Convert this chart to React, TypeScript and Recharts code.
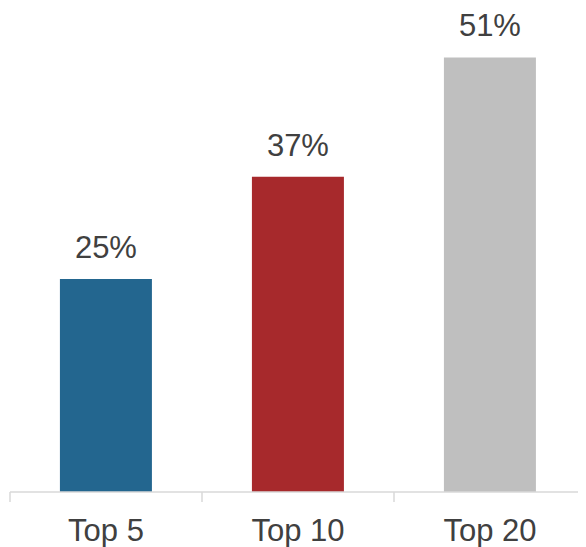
import { BarChart, Bar, XAxis, YAxis, Cell, LabelList } from 'recharts';

const categories = ['Top 5', 'Top 10', 'Top 20'];
const shares = [25, 37, 51];
const barColors = ['#23668f', '#a7292c', '#bfbfbf'];

const CHART_W = 578;
const CHART_H = 539;
const MARGIN = { top: 15.4, right: 0, left: 2, bottom: 5 };
const FONT = '"Liberation Sans", Arial, sans-serif';

const data = categories.map((name, i) => ({ name, value: shares[i] }));

const half = (CHART_W - MARGIN.left - MARGIN.right) / categories.length / 2;

function CategoryTick(props: any) {
  const { x, y, payload, index } = props;
  const last = index === categories.length - 1;
  return (
    <g>
      <line x1={x - half} x2={x - half} y1={y} y2={y + 10} stroke="#d9d9d9" strokeWidth={1.5} />
      {last && <line x1={x + half} x2={x + half} y1={y} y2={y + 10} stroke="#d9d9d9" strokeWidth={1.5} />}
      <text
        x={x}
        y={y + 49}
        textAnchor="middle"
        fill="#404040"
        fontSize={31}
        fontFamily={FONT}
      >
        {payload.value}
      </text>
    </g>
  );
}

export default function App() {
  return (
    <BarChart width={CHART_W} height={CHART_H} data={data} margin={MARGIN} barCategoryGap="26%">
      <XAxis
        dataKey="name"
        height={50}
        axisLine={{ stroke: '#d9d9d9', strokeWidth: 1.5 }}
        tickLine={false}
        tickSize={0}
        tickMargin={0}
        tick={<CategoryTick />}
        interval={0}
      />
      <YAxis hide domain={[0, 55]} />
      <Bar dataKey="value" isAnimationActive={false}>
        {data.map((d, i) => (
          <Cell key={d.name} fill={barColors[i]} />
        ))}
        <LabelList
          dataKey="value"
          position="top"
          offset={21}
          formatter={(v: any) => `${v}%`}
          fill="#404040"
          fontSize={31}
          fontFamily={FONT}
        />
      </Bar>
    </BarChart>
  );
}
